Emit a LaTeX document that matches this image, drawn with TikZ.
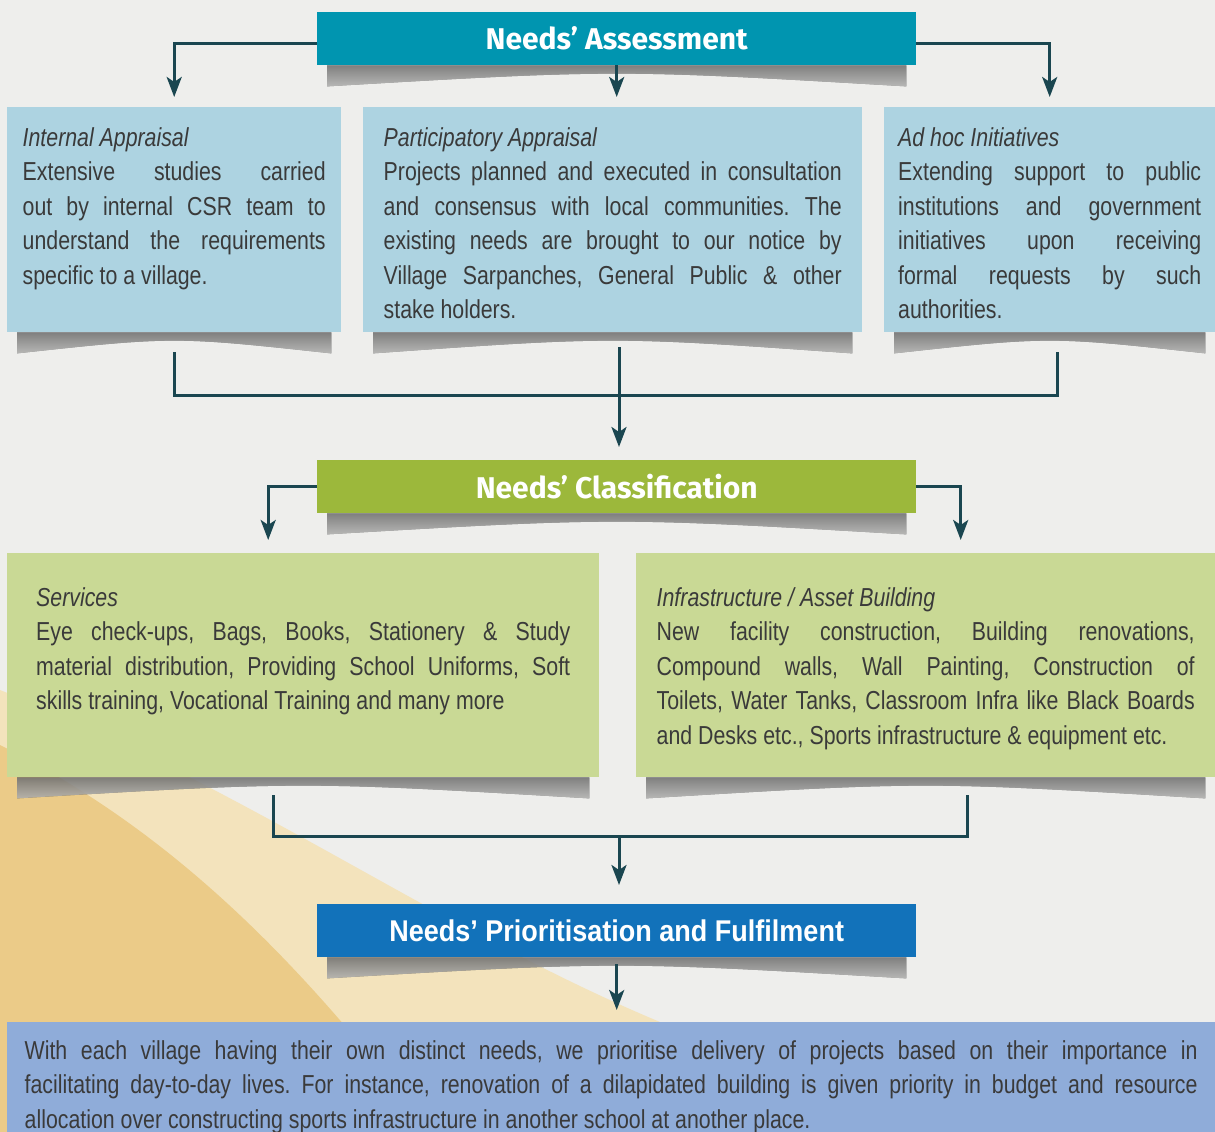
\documentclass[tikz,border=0pt]{standalone}
\usepackage{fontspec}
\setmainfont{Liberation Sans}[FakeStretch=0.82]
\newfontfamily\headfont{Fira Sans}
\newfontfamily\priorfont{Liberation Sans}[FakeStretch=0.9]
\usetikzlibrary{positioning,arrows.meta,backgrounds,calc}
\definecolor{fondo}{HTML}{EEEEEC}
\definecolor{oro}{HTML}{EBCB88}
\definecolor{oroclaro}{HTML}{F3E3BC}
\definecolor{tinta}{HTML}{3A3A3A}
\definecolor{flecha}{HTML}{1A4650}
\definecolor{turquesa}{HTML}{0095B0}
\definecolor{celeste}{HTML}{ADD3E1}
\definecolor{oliva}{HTML}{9CB83B}
\definecolor{pistacho}{HTML}{C9D995}
\definecolor{azul}{HTML}{1272BA}
\definecolor{lavanda}{HTML}{8FACD9}
\frenchspacing

\newcommand{\jl}[1]{\makebox[\linewidth][s]{#1}\par}
\newcommand{\cardtext}[5]{\parbox[b][#2][t]{#1}{\fontsize{26}{34.5}\selectfont
  \vspace*{#3}\textit{#4}\par #5}}
\newcommand{\curl}[1]{%
  \fill[top color=black!40, bottom color=fondo, opacity=0.65]
    ($(#1.south west)+(10,0)$) -- ++(0,21)
    .. controls ($(#1.south)+(0,4)$) .. ($(#1.south east)+(-10,21)$)
    -- ($(#1.south east)+(-10,0)$) -- cycle;}

\begin{document}
\begin{tikzpicture}[x=1pt, y=-1pt, text=tinta,
    card/.style={anchor=north west, inner sep=0pt, minimum width=#1},
    head/.style={anchor=north west, inner sep=0pt, minimum width=599, minimum height=53,
      text=white, font=\headfont\bfseries\fontsize{30}{34}\selectfont},
    link/.style={draw=flecha, line width=3pt},
    conn/.style={link, -{Stealth[length=20pt, width=15pt, inset=5pt]}}]
  \useasboundingbox (0,0) rectangle (1215,1132);
  \begin{scope}[on background layer]
    \fill[fondo] (0,0) rectangle (1215,1132);
    \fill[oroclaro] (0,690) .. controls (250,790) and (440,930) .. (660,1022)
      -- (660,1132) -- (0,1132) -- cycle;
    \fill[oro] (0,745) .. controls (170,830) and (300,960) .. (430,1132)
      -- (0,1132) -- cycle;
  \end{scope}

  \node[head, fill=turquesa] (assess) at (317,12) {Needs’ Assessment};
  \node[card=334, minimum height=225, fill=celeste] (intern) at (7,107)
    {\cardtext{303pt}{189pt}{2pt}{Internal Appraisal}{%
      \jl{Extensive studies carried}
      \jl{out by internal CSR team to}
      \jl{understand the requirements}
      specific to a village.}};
  \node[card=499, minimum height=225, fill=celeste] (partic) at (363,107)
    {\cardtext{458pt}{189pt}{2pt}{Participatory Appraisal}{%
      \jl{Projects planned and executed in consultation}
      \jl{and consensus with local communities. The}
      \jl{existing needs are brought to our notice by}
      \jl{Village Sarpanches, General Public \& other}
      stake holders.}};
  \node[card=331, minimum height=225, fill=celeste] (adhoc) at (884,107)
    {\cardtext{303pt}{189pt}{2pt}{Ad hoc Initiatives}{%
      \jl{Extending support to public}
      \jl{institutions and government}
      \jl{initiatives upon receiving}
      \jl{formal requests by such}
      authorities.}};

  \coordinate (merge1) at (619,395);
  \node[head, fill=oliva] (classif) at (317,460) {Needs’ Classification};
  \node[card=592, minimum height=224, fill=pistacho] (serv) at (7,553)
    {\cardtext{534pt}{188pt}{16pt}{Services}{%
      \jl{Eye check-ups, Bags, Books, Stationery \& Study}
      \jl{material distribution, Providing School Uniforms, Soft}
      skills training, Vocational Training and many more}};
  \node[card=579, minimum height=224, fill=pistacho] (infra) at (636,553)
    {\cardtext{538pt}{188pt}{16pt}{Infrastructure / Asset Building}{%
      \jl{New facility construction, Building renovations,}
      \jl{Compound walls, Wall Painting, Construction of}
      \jl{Toilets, Water Tanks, Classroom Infra like Black Boards}
      and Desks etc., Sports infrastructure \& equipment etc.}};

  \coordinate (merge2) at (619,836);
  \node[head, fill=azul, font=\priorfont\bfseries\fontsize{30}{34}\selectfont] (prior) at (317,904)
    {Needs’ Prioritisation and Fulfilment};
  \node[card=1208, minimum height=150, fill=lavanda] (impact) at (7,1022)
    {\cardtext{1173pt}{130pt}{3pt}{}{%
      \vspace*{-10.5pt}%
      \jl{With each village having their own distinct needs, we prioritise delivery of projects based on their importance in}
      \jl{facilitating day-to-day lives. For instance, renovation of a dilapidated building is given priority in budget and resource}
      allocation over constructing sports infrastructure in another school at another place.}};

  \begin{scope}[on background layer]
    \foreach \n in {assess,intern,partic,adhoc,classif,serv,infra,prior} {\curl{\n}}
  \end{scope}

  \draw[conn, shorten >=10pt] ([yshift=-5pt]assess.west) -| (intern.north);
  \draw[conn, shorten >=10pt] ([yshift=-5pt]assess.east) -| (adhoc.north);
  \draw[conn, shorten >=10pt] (assess.south) -- (assess.south |- partic.north);
  \draw[link, shorten <=20pt, shorten >=20pt] (intern.south) |- (merge1) -| ([xshift=8pt]adhoc.south);
  \draw[conn, shorten <=15pt, shorten >=13pt] (partic.south -| merge1) -- (merge1 |- classif.north);
  \draw[conn, shorten >=13pt] (classif.west) -| ([xshift=-35pt]serv.north);
  \draw[conn, shorten >=13pt] (classif.east) -| ([xshift=35pt]infra.north);
  \draw[link, shorten <=18pt, shorten >=18pt] ([xshift=-30pt]serv.south) |- (merge2) -| ([xshift=42pt]infra.south);
  \draw[conn, shorten >=19pt] (merge2) -- (merge2 |- prior.north);
  \draw[conn, shorten <=7pt, shorten >=12pt] (prior.south) -- (prior.south |- impact.north);
\end{tikzpicture}
\end{document}
